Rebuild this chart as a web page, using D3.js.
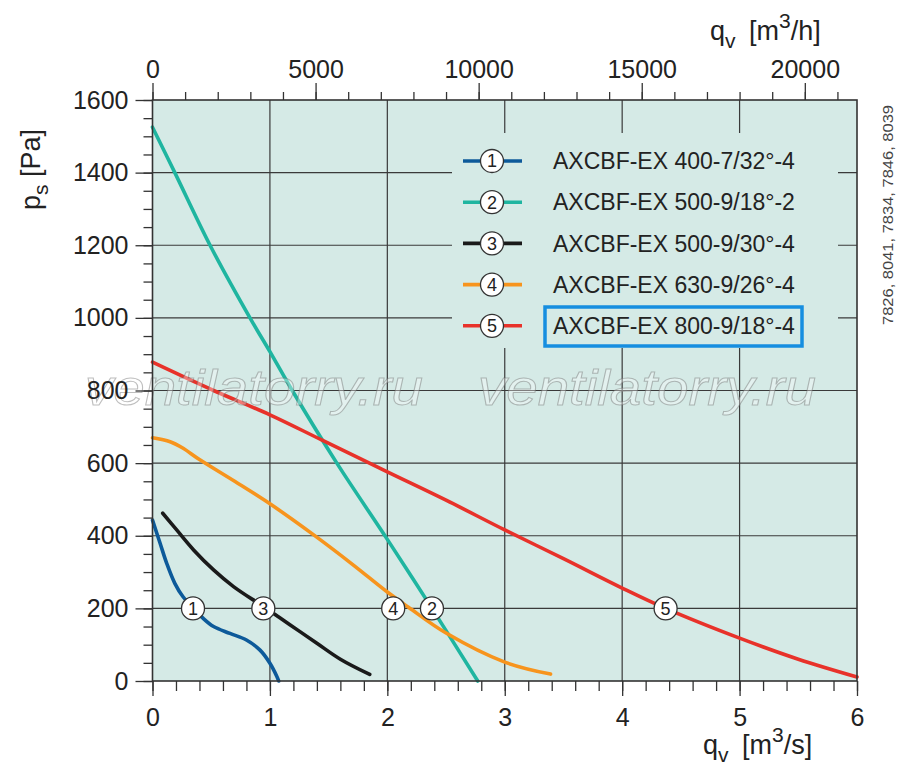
<!DOCTYPE html>
<html>
<head>
<meta charset="utf-8">
<script src="https://cdn.jsdelivr.net/npm/d3@7"></script>
<style>
  body { margin: 0; background: #fff; }
  svg { display: block; font-family: "Liberation Sans", Arial, sans-serif; }
  .tick text { fill: #222; }
</style>
</head>
<body>
<div id="chart"></div>
<script>
// fan curves: q [m3/s] against ps [Pa]
const q1 = [0, 0.064, 0.121, 0.19, 0.26, 0.345, 0.43, 0.52, 0.66, 0.80, 0.916, 1.0, 1.06, 1.075];
const p1 = [443, 380, 324, 269, 232, 202, 173, 150, 131, 113, 85, 49, 12, 0];
const q2 = [0, 0.19, 0.49, 0.83, 1.0, 1.19, 1.57, 2.0, 2.38, 2.77];
const p2 = [1525, 1400, 1200, 1000, 907, 800, 600, 390, 200, 0];
const q3 = [0.087, 0.206, 0.35, 0.52, 0.69, 0.944, 1.17, 1.40, 1.60, 1.85];
const p3 = [462, 416, 361, 306, 260, 205, 155, 104, 60, 18];
const q4 = [0, 0.15, 0.25, 0.4, 0.7, 1.0, 1.37, 1.7, 2.0, 2.18, 2.5, 3.0, 3.39];
const p4 = [670, 659, 643, 610, 550, 488, 403, 322, 245, 203, 132, 52, 19];
const q5 = [0, 0.52, 1, 1.44, 2, 2.5, 3, 3.5, 4, 4.37, 5, 5.5, 6];
const p5 = [878, 800, 733, 664, 576, 498, 416, 337, 256, 200, 118, 60, 11];

const names = ["AXCBF-EX 400-7/32°-4", "AXCBF-EX 500-9/18°-2", "AXCBF-EX 500-9/30°-4",
               "AXCBF-EX 630-9/26°-4", "AXCBF-EX 800-9/18°-4"];
const colors = ["#0d5a9a", "#1fb5a0", "#1a1a1a", "#f7941d", "#e8322a"];
// where the numbered circle sits on each curve (q, ps)
const markQ = [0.345, 2.38, 0.944, 2.05, 4.37];
const markP = [200, 200, 200, 200, 200];

const qTicks = [0, 1, 2, 3, 4, 5, 6];
const hTicks = [0, 5000, 10000, 15000, 20000];
const pTicks = [0, 200, 400, 600, 800, 1000, 1200, 1400, 1600];
const codes = "7826, 8041, 7834, 7846, 8039";
const watermark = "ventilatorry.ru";

const width = 900, height = 777;
const mLeft = 152.5, mRight = 857, mTop = 100, mBottom = 681;

const svg = d3.select("#chart").append("svg")
  .attr("width", width).attr("height", height);

const x = d3.scaleLinear().domain([0, 6]).range([mLeft, mRight]);
const xh = d3.scaleLinear().domain([0, 21600]).range([mLeft, mRight]);
const y = d3.scaleLinear().domain([0, 1600]).range([mBottom, mTop]);

// plot background
svg.append("rect")
  .attr("x", mLeft).attr("y", mTop)
  .attr("width", mRight - mLeft).attr("height", mBottom - mTop)
  .attr("fill", "#d5eae6");

// grid
const grid = svg.append("g").attr("stroke", "#3a3a3a").attr("stroke-width", 1.2);
grid.selectAll("line.v").data(qTicks.slice(1, -1)).enter().append("line")
  .attr("x1", d => x(d)).attr("x2", d => x(d))
  .attr("y1", mTop).attr("y2", mBottom);
grid.selectAll("line.h").data(pTicks.slice(1, -1)).enter().append("line")
  .attr("x1", mLeft).attr("x2", mRight)
  .attr("y1", d => y(d)).attr("y2", d => y(d));

// legend panel hides the grid behind it
svg.append("rect")
  .attr("x", 452).attr("y", 133).attr("width", 386).attr("height", 215)
  .attr("fill", "#d5eae6");

// curves
const line = d3.line().x(d => x(d[0])).y(d => y(d[1])).curve(d3.curveCatmullRom.alpha(0.5));
const series = [[q1, p1], [q2, p2], [q3, p3], [q4, p4], [q5, p5]];
series.forEach(([qs, ps], i) => {
  svg.append("path")
    .datum(qs.map((q, j) => [q, ps[j]]))
    .attr("d", line)
    .attr("fill", "none")
    .attr("stroke", colors[i])
    .attr("stroke-width", 3.6)
    .attr("stroke-linecap", "round");
});

// watermark
[[85, 405], [478, 405]].forEach(([wx, wy]) => {
  svg.append("text")
    .attr("x", wx).attr("y", wy)
    .attr("font-size", 50)
    .attr("font-style", "italic")
    .attr("textLength", 338)
    .attr("lengthAdjust", "spacingAndGlyphs")
    .attr("fill", "rgba(255,255,255,0.35)")
    .attr("stroke", "rgba(110,110,110,0.45)")
    .attr("stroke-width", 1)
    .text(watermark);
});

// numbered markers on curves
const marks = svg.append("g");
markQ.forEach((q, i) => {
  const g = marks.append("g").attr("transform", `translate(${x(q)},${y(markP[i])})`);
  g.append("circle").attr("r", 11.5).attr("fill", "#fff")
    .attr("stroke", "#333").attr("stroke-width", 1.3);
  g.append("text").attr("text-anchor", "middle").attr("dy", "0.36em")
    .attr("font-size", 18).attr("fill", "#222").text(i + 1);
});

// legend
const legend = svg.append("g");
names.forEach((name, i) => {
  const ly = 161 + i * 41.2;
  legend.append("line")
    .attr("x1", 463).attr("x2", 522).attr("y1", ly).attr("y2", ly)
    .attr("stroke", colors[i]).attr("stroke-width", 3.6);
  legend.append("circle").attr("cx", 492).attr("cy", ly).attr("r", 11.5)
    .attr("fill", "#fff").attr("stroke", "#333").attr("stroke-width", 1.3);
  legend.append("text").attr("x", 492).attr("y", ly).attr("dy", "0.36em")
    .attr("text-anchor", "middle").attr("font-size", 18).attr("fill", "#222")
    .text(i + 1);
  legend.append("text").attr("x", 553).attr("y", ly).attr("dy", "0.36em")
    .attr("font-size", 23).attr("fill", "#222")
    .text(name);
});
legend.append("rect")
  .attr("x", 545).attr("y", 307).attr("width", 257).attr("height", 39)
  .attr("fill", "none").attr("stroke", "#168ee0").attr("stroke-width", 3.5);

// axes
function styleAxis(g) {
  g.select(".domain").remove();
  g.selectAll(".tick line").attr("stroke", "#333").attr("stroke-width", 1.3);
  g.selectAll(".tick text").attr("font-size", 25);
}
svg.append("g").attr("transform", `translate(0,${mBottom})`)
  .call(d3.axisBottom(x).tickValues(d3.range(0, 31).map(i => i / 5)).tickSize(10).tickFormat(""))
  .call(styleAxis);
svg.append("g").attr("transform", `translate(0,${mBottom})`)
  .call(d3.axisBottom(x).tickValues(qTicks).tickSize(15).tickPadding(12).tickFormat(d3.format("d")))
  .call(styleAxis);
svg.append("g").attr("transform", `translate(0,${mTop})`)
  .call(d3.axisTop(xh).tickValues(d3.range(0, 22000, 1000)).tickSize(8).tickFormat(""))
  .call(styleAxis);
svg.append("g").attr("transform", `translate(0,${mTop})`)
  .call(d3.axisTop(xh).tickValues(hTicks).tickSize(17).tickPadding(5).tickFormat(d3.format("d")))
  .call(styleAxis);
svg.append("g").attr("transform", `translate(${mLeft},0)`)
  .call(d3.axisLeft(y).tickValues(d3.range(0, 1650, 50)).tickSize(9).tickFormat(""))
  .call(styleAxis);
svg.append("g").attr("transform", `translate(${mLeft},0)`)
  .call(d3.axisLeft(y).tickValues(pTicks).tickSize(17).tickPadding(7).tickFormat(d3.format("d")))
  .call(styleAxis);

// frame
svg.append("rect")
  .attr("x", mLeft).attr("y", mTop)
  .attr("width", mRight - mLeft).attr("height", mBottom - mTop)
  .attr("fill", "none").attr("stroke", "#333").attr("stroke-width", 1.6);

// axis titles
function unitLabel(g, unit) {
  g.append("tspan").text("q");
  g.append("tspan").attr("font-size", 21).attr("dy", 8).text("v");
  g.append("tspan").attr("dy", -8).text("\u2002[m");
  g.append("tspan").attr("font-size", 21).attr("dy", -12).text("3");
  g.append("tspan").attr("dy", 12).text(unit + "]");
}
svg.append("text").attr("x", 710).attr("y", 40).attr("font-size", 27).attr("fill", "#222")
  .call(unitLabel, "/h");
svg.append("text").attr("x", 703).attr("y", 754).attr("font-size", 27).attr("fill", "#222")
  .call(unitLabel, "/s");

const yTitle = svg.append("text")
  .attr("transform", "translate(40,210) rotate(-90)")
  .attr("font-size", 27).attr("fill", "#222");
yTitle.append("tspan").text("p");
yTitle.append("tspan").attr("font-size", 21).attr("dy", 8).text("s");
yTitle.append("tspan").attr("dy", -8).text(" [Pa]");

svg.append("text")
  .attr("transform", "translate(893,325) rotate(-90)")
  .attr("font-size", 15).attr("fill", "#444")
  .attr("textLength", 220).attr("lengthAdjust", "spacingAndGlyphs")
  .text(codes);
</script>
</body>
</html>
